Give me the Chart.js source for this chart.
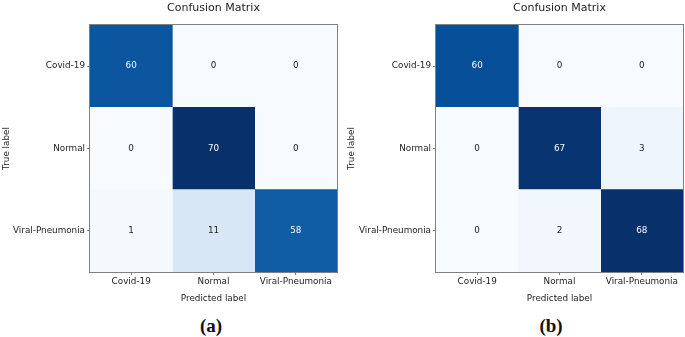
<!DOCTYPE html>
<html>
<head>
<meta charset="utf-8">
<script src="https://cdn.jsdelivr.net/npm/chart.js@4.4.1/dist/chart.umd.min.js"></script>
<style>
body { margin: 0; background: #fff; width: 685px; height: 337px; position: relative; overflow: hidden; }
canvas { position: absolute; top: 0; }
#cA { left: 0; }
#cB { left: 343px; }
.cap { position: absolute; top: 316px; width: 100px; text-align: center; font: bold 19px "Liberation Serif", serif; line-height: 19px; color: #111; }
</style>
</head>
<body>
<canvas id="cA" width="343" height="310"></canvas>
<canvas id="cB" width="342" height="310"></canvas>
<div class="cap" style="left:161px">(a)</div>
<div class="cap" style="left:501px">(b)</div>
<script>
// ---------- DATA ----------
const trueLabels = ["Covid-19", "Normal", "Viral-Pneumonia"];
const predLabels = ["Covid-19", "Normal", "Viral-Pneumonia"];
const matrixA = [
    [60, 0, 0],
    [0, 70, 0],
    [1, 11, 58]
];
const matrixB = [
    [60, 0, 0],
    [0, 67, 3],
    [0, 2, 68]
];
const chartTitle = "Confusion Matrix";
const xTitle = "Predicted label";
const yTitle = "True label";

// ---------- STYLE ----------
const FONT = "DejaVu Sans";
const TEXT = "#222222";
const SPINE = "#808080";
Chart.defaults.font.family = FONT;
Chart.defaults.color = TEXT;

// matplotlib "Blues"
const BLUES = ["#f7fbff", "#deebf7", "#c6dbef", "#9ecae1", "#6baed6",
               "#4292c6", "#2171b5", "#08519c", "#08306b"];

function hexToRgb(h) {
    return [1, 3, 5].map(k => parseInt(h.substr(k, 2), 16));
}

function blues(t) {
    t = Math.max(0, Math.min(1, t));
    const pos = t * (BLUES.length - 1);
    const i = Math.min(Math.floor(pos), BLUES.length - 2);
    const f = pos - i;
    const a = hexToRgb(BLUES[i]), b = hexToRgb(BLUES[i + 1]);
    const c = a.map((v, k) => Math.round(v + (b[k] - v) * f));
    return "rgb(" + c.join(",") + ")";
}

// ---------- PLUGIN: cell values + frame ----------
function cellPlugin(matrix) {
    const flat = matrix.flat();
    const thresh = (Math.max(...flat) + Math.min(...flat)) / 2;
    return {
        id: "cells",
        afterDatasetsDraw(chart) {
            const ctx = chart.ctx;
            ctx.save();
            ctx.font = "8.8px '" + FONT + "'";
            ctx.textAlign = "center";
            ctx.textBaseline = "middle";
            chart.data.datasets.forEach((ds, j) => {
                chart.getDatasetMeta(j).data.forEach((bar, i) => {
                    const p = bar.getCenterPoint();
                    ctx.fillStyle = matrix[i][j] > thresh ? "#f7fbff" : TEXT;
                    ctx.fillText(String(matrix[i][j]), p.x, p.y);
                });
            });
            const a = chart.chartArea;
            ctx.strokeStyle = SPINE;
            ctx.lineWidth = 1;
            ctx.strokeRect(Math.round(a.left) - 0.5, Math.round(a.top) - 0.5,
                Math.round(a.right - a.left) + 1, Math.round(a.bottom - a.top) + 1);
            ctx.restore();
        }
    };
}

// ---------- CHART ----------
function makeChart(id, matrix, leftWidth, rightPad, yTitlePad) {
    const flat = matrix.flat();
    const vmin = Math.min(...flat), vmax = Math.max(...flat);

    const datasets = predLabels.map((p, j) => ({
        label: p,
        data: trueLabels.map(() => 1),
        backgroundColor: trueLabels.map((t, i) => blues((matrix[i][j] - vmin) / (vmax - vmin))),
        borderWidth: 0,
        categoryPercentage: 1,
        barPercentage: 1
    }));

    return new Chart(document.getElementById(id), {
        type: "bar",
        data: { labels: trueLabels, datasets: datasets },
        options: {
            indexAxis: "y",
            responsive: false,
            animation: false,
            events: [],
            layout: { padding: { left: 0, right: rightPad, top: 0, bottom: 0 } },
            plugins: {
                legend: { display: false },
                tooltip: { enabled: false },
                title: { display: false }
            },
            scales: {
                x: {
                    type: "linear",
                    stacked: true,
                    min: 0,
                    max: predLabels.length,
                    afterBuildTicks(scale) {
                        scale.ticks = predLabels.map((p, j) => ({ value: j + 0.5 }));
                    },
                    afterFit(scale) { scale.height = 38; },
                    ticks: {
                        autoSkip: false,
                        maxRotation: 0,
                        padding: 1,
                        font: { size: 8.8 },
                        color: TEXT,
                        callback: (v, i) => predLabels[i]
                    },
                    grid: { display: true, drawOnChartArea: false, drawTicks: true, tickLength: 3, color: SPINE },
                    border: { display: false },
                    title: {
                        display: true, text: xTitle, color: TEXT,
                        font: { size: 8.8 }, padding: { top: 0, bottom: 6 }
                    }
                },
                y: {
                    type: "category",
                    stacked: true,
                    offset: true,
                    afterFit(scale) { scale.width = leftWidth; },
                    ticks: { padding: 2, font: { size: 8.8 }, color: TEXT },
                    grid: { display: true, offset: false, drawOnChartArea: false, drawTicks: true, tickLength: 3, color: SPINE },
                    border: { display: false },
                    title: {
                        display: true, text: yTitle, color: TEXT,
                        font: { size: 8.8 }, padding: { top: yTitlePad, bottom: 0 }
                    }
                },
                top: {
                    type: "linear",
                    axis: "x",
                    position: "top",
                    min: 0,
                    max: 1,
                    afterFit(scale) { scale.height = 25; },
                    ticks: { display: false },
                    grid: { display: false },
                    border: { display: false },
                    title: {
                        display: true, text: chartTitle, color: TEXT,
                        font: { size: 11 }, padding: { top: 1.5, bottom: 0 }
                    }
                }
            }
        },
        plugins: [cellPlugin(matrix)]
    });
}

makeChart("cA", matrixA, 90, 6, 1.8);
makeChart("cB", matrixB, 93, 2, 3.8);
</script>
</body>
</html>
